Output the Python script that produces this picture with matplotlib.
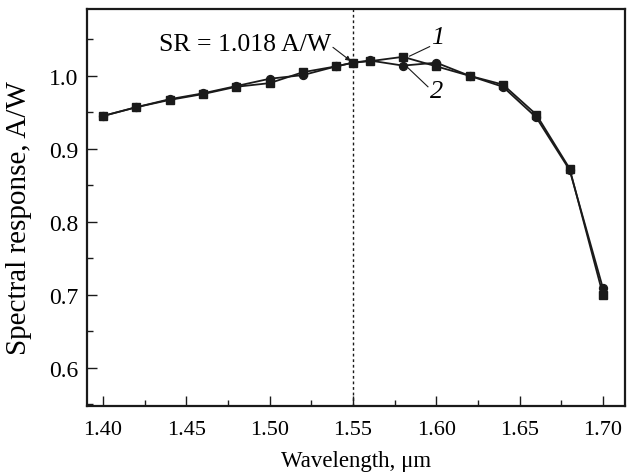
import numpy as np
import matplotlib.pyplot as plt
from matplotlib.ticker import MultipleLocator

plt.rcParams['font.family'] = ['Liberation Serif', 'DejaVu Serif']

# === Data: spectral response of two photodiodes ===
wavelength = [1.40, 1.42, 1.44, 1.46, 1.48, 1.50, 1.52, 1.54, 1.55,
              1.56, 1.58, 1.60, 1.62, 1.64, 1.66, 1.68, 1.70]
sr_1 = [0.945, 0.957, 0.967, 0.975, 0.985, 0.990, 1.005, 1.013, 1.018,
        1.020, 1.026, 1.013, 1.000, 0.988, 0.947, 0.873, 0.700]
sr_2 = [0.945, 0.957, 0.968, 0.976, 0.986, 0.996, 1.001, 1.013, 1.018,
        1.021, 1.014, 1.018, 1.000, 0.985, 0.943, 0.871, 0.709]
peak_wl = 1.55
peak_sr = 1.018

fig = plt.figure(figsize=(6.3, 4.77), dpi=100)
ax = fig.add_axes([0.138, 0.147, 0.854, 0.832])

ax.plot(wavelength, sr_1, color='#1a1a1a', lw=1.3, marker='s', ms=5.7, zorder=3)
ax.plot(wavelength, sr_2, color='#1a1a1a', lw=1.3, marker='o', ms=5.7, zorder=3)

# dotted marker at the peak wavelength
ax.axvline(peak_wl, color='#1a1a1a', ls=(0, (2, 2)), lw=1.0, zorder=1)

ax.text(1.537, 1.044, f'SR = {peak_sr:.3f} A/W', ha='right', va='center', fontsize=18.5)
ax.annotate('', xy=(peak_wl, peak_sr), xytext=(1.538, 1.039),
            arrowprops=dict(arrowstyle='-|>', color='#1a1a1a', lw=0.8,
                            mutation_scale=7, shrinkA=0, shrinkB=2))

# curve labels
ax.text(1.601, 1.053, '1', style='italic', fontsize=19, ha='center', va='center')
ax.plot([1.596, 1.584], [1.040, 1.027], color='#1a1a1a', lw=0.8)
ax.text(1.600, 0.979, '2', style='italic', fontsize=19, ha='center', va='center')
ax.plot([1.595, 1.583], [0.985, 1.011], color='#1a1a1a', lw=0.8)

ax.set_xlim(1.3904, 1.7132)
ax.set_ylim(0.548, 1.0915)
ax.xaxis.set_major_locator(MultipleLocator(0.05))
ax.xaxis.set_minor_locator(MultipleLocator(0.025))
ax.yaxis.set_major_locator(MultipleLocator(0.1))
ax.yaxis.set_minor_locator(MultipleLocator(0.05))
ax.xaxis.set_major_formatter(plt.FormatStrFormatter('%.2f'))
ax.yaxis.set_major_formatter(plt.FormatStrFormatter('%.1f'))
ax.tick_params(which='both', direction='in', top=False, right=False,
               labelsize=16, width=1.0, color='#1a1a1a')
ax.tick_params(axis='y', labelsize=17)
ax.tick_params(which='major', length=7)
ax.tick_params(axis='x', which='major', pad=10)
ax.tick_params(axis='y', which='major', pad=6)
ax.tick_params(which='minor', length=4)
for s in ax.spines.values():
    s.set_linewidth(1.6)
    s.set_color('#1a1a1a')

ax.set_xlabel('Wavelength, μm', fontsize=16.5, labelpad=8)
ax.set_ylabel('Spectral response, A/W', fontsize=21)
ax.yaxis.set_label_coords(-0.103, 0.475)

fig.savefig('out.png', dpi=100)
